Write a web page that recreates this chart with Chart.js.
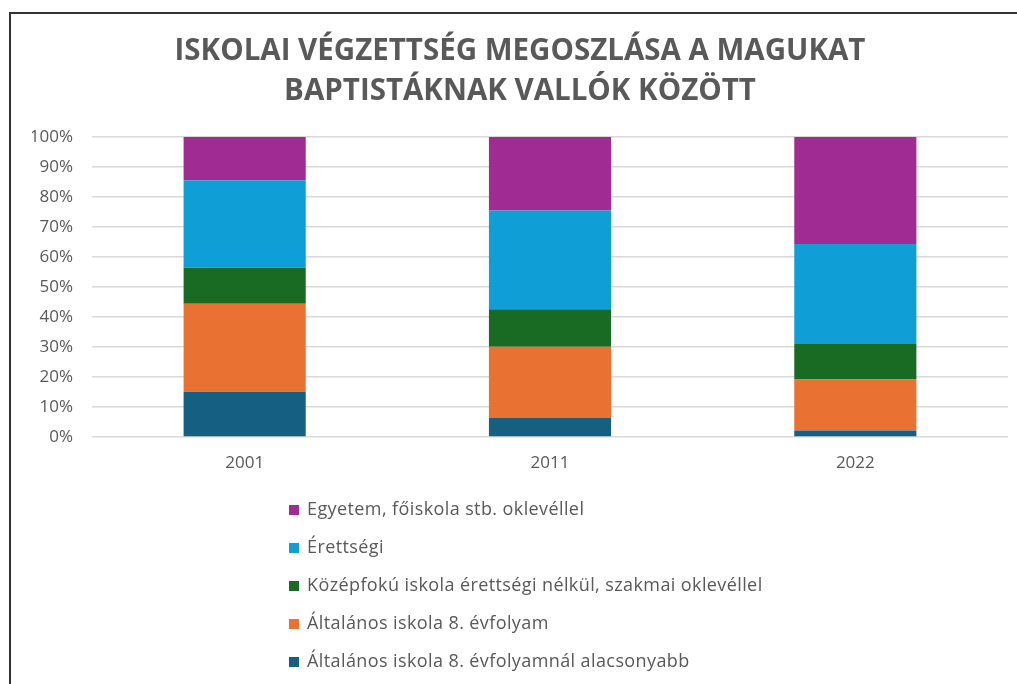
<!DOCTYPE html>
<html>
<head>
<meta charset="utf-8">
<script src="https://cdn.jsdelivr.net/npm/chart.js@4"></script>
<style>
  body { margin: 0; background: #fff; width: 1017px; height: 684px; overflow: hidden; position: relative; }
  #frame { position: absolute; left: 9px; top: 12px; right: -5px; bottom: -5px; border-top: 2px solid #333; border-left: 2px solid #333; }
  #wrap { position: absolute; left: 0; top: 0; width: 1017px; height: 684px; }
  #legend { position: absolute; left: 289px; top: 489px; font-family: "Open Sans", sans-serif; font-size: 18px; letter-spacing: 0.4px; color: #595959; }
  #legend div { height: 38px; line-height: 38px; white-space: nowrap; }
  #legend span { display: inline-block; width: 10px; height: 10px; margin-right: 8px; vertical-align: 0px; }
</style>
</head>
<body>
<div id="frame"></div>
<div id="wrap"><canvas id="eduChart"></canvas></div>
<div id="legend"></div>
<script>
const years = ['2001', '2011', '2022'];
const titleLines = ['ISKOLAI VÉGZETTSÉG MEGOSZLÁSA A MAGUKAT', 'BAPTISTÁKNAK VALLÓK KÖZÖTT'];

// shares in percent, bottom segment first
const belowEight = [15.1, 6.3, 2.2];
const eightGrade = [29.3, 23.8, 17.0];
const vocational = [12.0, 12.5, 11.8];
const matura = [29.2, 32.9, 33.3];
const degree = [14.4, 24.5, 35.7];

const seriesNames = [
    'Általános iskola 8. évfolyamnál alacsonyabb',
    'Általános iskola 8. évfolyam',
    'Középfokú iskola érettségi nélkül, szakmai oklevéllel',
    'Érettségi',
    'Egyetem, főiskola stb. oklevéllel'
];
const seriesValues = [belowEight, eightGrade, vocational, matura, degree];
const seriesColors = ['#156082', '#E97132', '#196B24', '#0F9ED5', '#A02B93'];

const datasets = seriesNames.map((name, i) => ({
    label: name,
    data: seriesValues[i],
    backgroundColor: seriesColors[i],
    borderWidth: 0,
    categoryPercentage: 1,
    barPercentage: 0.4
}));

const ctx = document.getElementById('eduChart').getContext('2d');
const eduChart = new Chart(ctx, {
    type: 'bar',
    data: { labels: years, datasets: datasets },
    options: {
        responsive: true,
        maintainAspectRatio: false,
        animation: false,
        layout: { padding: { left: 32, right: 9, top: 0, bottom: 212 } },
        plugins: {
            legend: { display: false },
            tooltip: { enabled: false },
            title: {
                display: true,
                text: titleLines,
                color: '#595959',
                font: { family: '"Open Sans", sans-serif', size: 29.5, weight: 'bold', lineHeight: 40 / 29.5 },
                padding: { top: 32, bottom: 25 }
            }
        },
        scales: {
            x: {
                stacked: true,
                grid: { display: false, drawTicks: false },
                border: { display: false },
                ticks: { color: '#595959', padding: 16, font: { family: '"Open Sans", sans-serif', size: 17 } },
                afterFit: scale => { scale.height = 35; }
            },
            y: {
                stacked: true,
                min: 0,
                max: 100,
                ticks: {
                    stepSize: 10,
                    color: '#595959',
                    padding: 19,
                    font: { family: '"Open Sans", sans-serif', size: 17 },
                    callback: v => v + '%'
                },
                grid: { color: '#D9D9D9', lineWidth: 1.5, drawTicks: false },
                border: { display: false },
                afterFit: scale => { scale.width = 60; }
            }
        }
    }
});

// legend, top item first like in the chart
const legendBox = document.getElementById('legend');
for (let i = seriesNames.length - 1; i >= 0; i--) {
    const row = document.createElement('div');
    const swatch = document.createElement('span');
    swatch.style.background = seriesColors[i];
    row.appendChild(swatch);
    row.appendChild(document.createTextNode(seriesNames[i]));
    legendBox.appendChild(row);
}
</script>
</body>
</html>
